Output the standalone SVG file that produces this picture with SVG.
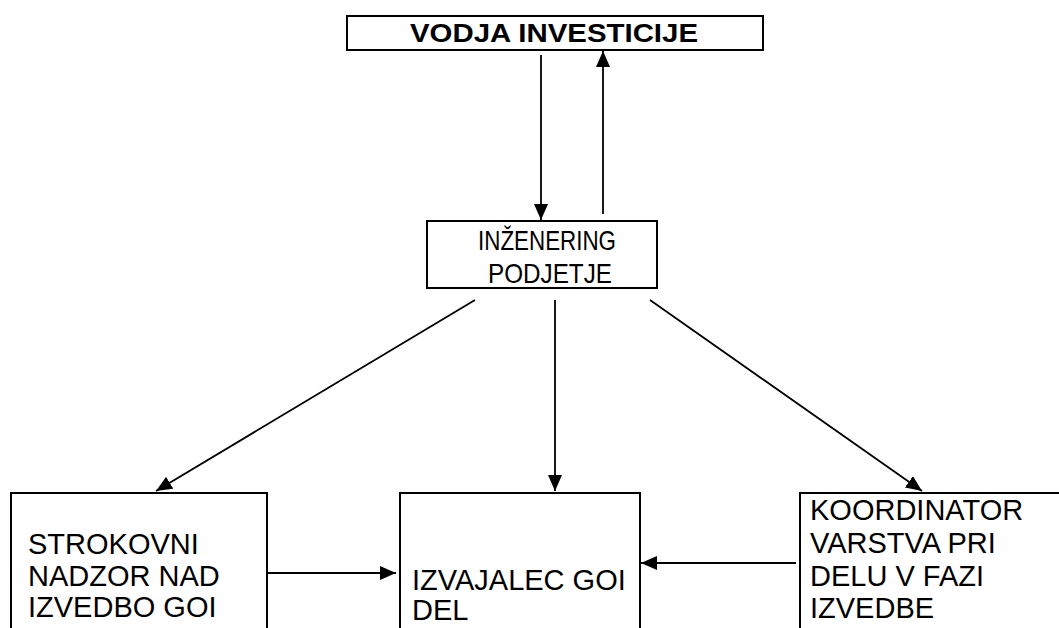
<svg xmlns="http://www.w3.org/2000/svg" width="1059" height="628" viewBox="0 0 1059 628">
<style>
.box{fill:#fff;stroke:#000;stroke-width:2}
.t{font-family:"Liberation Sans",Arial,sans-serif;fill:#000}
.b{font-size:29px}
.c{stroke:#000;stroke-width:1.8;fill:none;marker-end:url(#ah)}
</style>
<defs>
<marker id="ah" markerUnits="userSpaceOnUse" markerWidth="17" markerHeight="14" refX="16" refY="7" orient="auto">
<path d="M0,0 L16,7 L0,14 Z" fill="#000"/>
</marker>
</defs>
<rect width="1059" height="628" fill="#fff"/>
<g id="vodja">
<rect class="box" x="347" y="16" width="416" height="34"/>
<text class="t" x="554" y="42" font-size="26" font-weight="bold" text-anchor="middle" textLength="288" lengthAdjust="spacingAndGlyphs">VODJA INVESTICIJE</text>
</g>
<g id="inzenering">
<rect class="box" x="427" y="221" width="230" height="67"/>
<text class="t" x="547" y="250" font-size="28" text-anchor="middle" textLength="138" lengthAdjust="spacingAndGlyphs">INŽENERING</text>
<text class="t" x="550" y="283" font-size="28" text-anchor="middle" textLength="124" lengthAdjust="spacingAndGlyphs">PODJETJE</text>
</g>
<g id="nadzor">
<rect class="box" x="11" y="493" width="256" height="145"/>
<text class="t b" x="28" y="554">STROKOVNI</text>
<text class="t b" x="28" y="586">NADZOR NAD</text>
<text class="t b" x="28" y="617">IZVEDBO GOI</text>
</g>
<g id="izvajalec">
<rect class="box" x="400" y="493" width="240" height="145"/>
<text class="t b" x="412" y="590">IZVAJALEC GOI</text>
<text class="t b" x="412" y="620">DEL</text>
</g>
<g id="koordinator">
<rect class="box" x="800" y="493" width="270" height="145"/>
<text class="t b" x="810" y="520">KOORDINATOR</text>
<text class="t b" x="810" y="553">VARSTVA PRI</text>
<text class="t b" x="810" y="586">DELU V FAZI</text>
<text class="t b" x="810" y="618">IZVEDBE</text>
</g>
<g id="connectors">
<line class="c" x1="541" y1="55" x2="541" y2="220"/>
<line class="c" x1="603" y1="214" x2="603" y2="51"/>
<line class="c" x1="475" y1="300" x2="156" y2="491"/>
<line class="c" x1="555" y1="300" x2="555" y2="491"/>
<line class="c" x1="650" y1="300" x2="922" y2="491"/>
<line class="c" x1="267" y1="573" x2="396" y2="573"/>
<line class="c" x1="796" y1="563" x2="641" y2="563"/>
</g>
</svg>
